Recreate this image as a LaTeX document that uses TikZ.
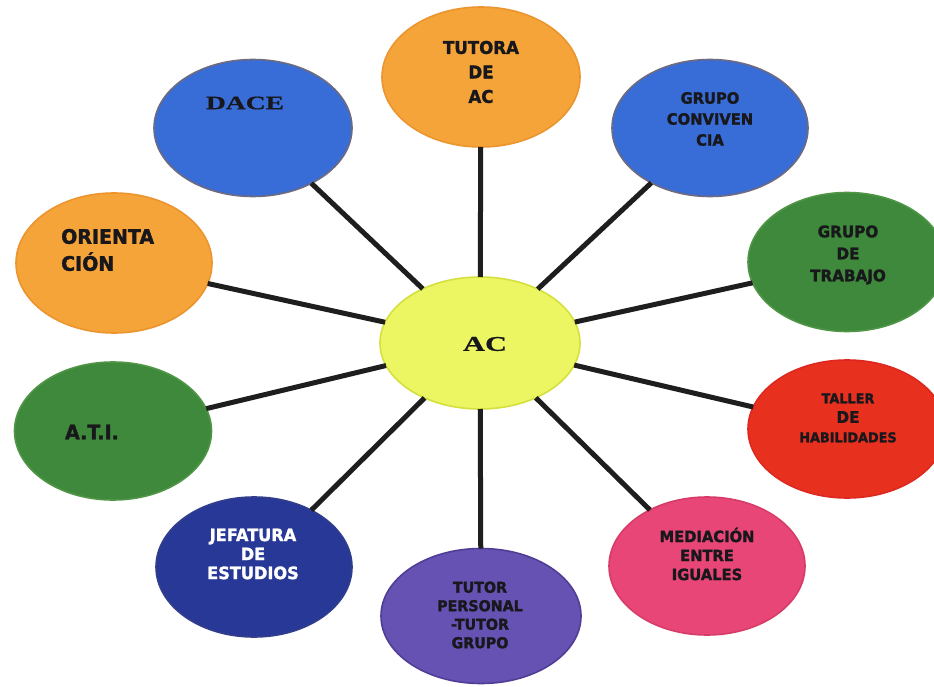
\documentclass[tikz,border=0pt]{standalone}
\usepackage{fontspec}
\setmainfont{DejaVu Sans}
\newfontfamily\sansb[FakeStretch=0.95,FakeBold=1.6]{DejaVu Sans}
\newfontfamily\serifb[FakeStretch=1.45,FakeBold=0.6]{Liberation Serif}
\usetikzlibrary{shapes.geometric}
\definecolor{orangeF}{RGB}{245,164,58}
\definecolor{orangeD}{RGB}{236,148,45}
\definecolor{blueF}{RGB}{56,108,214}
\definecolor{blueD}{RGB}{110,106,128}
\definecolor{greenF}{RGB}{62,137,60}
\definecolor{greenD}{RGB}{80,150,70}
\definecolor{redF}{RGB}{232,48,30}
\definecolor{redD}{RGB}{220,40,30}
\definecolor{navyF}{RGB}{40,56,150}
\definecolor{navyD}{RGB}{50,62,140}
\definecolor{purpleF}{RGB}{102,82,178}
\definecolor{purpleD}{RGB}{80,62,150}
\definecolor{pinkF}{RGB}{232,70,118}
\definecolor{pinkD}{RGB}{215,60,105}
\definecolor{yellowF}{RGB}{236,246,98}
\definecolor{yellowD}{RGB}{212,224,60}
\definecolor{spokec}{RGB}{30,30,30}
\definecolor{txt}{RGB}{24,24,28}
\begin{document}
\begin{tikzpicture}[x=1pt,y=-1pt,
  blob/.style={ellipse, inner sep=0pt, outer sep=0pt, line width=1.6pt},
  orangeblob/.style={blob, fill=orangeF, draw=orangeD},
  blueblob/.style={blob, fill=blueF, draw=blueD},
  greenblob/.style={blob, fill=greenF, draw=greenD},
  spoke/.style={line width=5pt, draw=spokec},
  lbl/.style={align=center, text=txt, inner sep=0pt},
]
\clip (0,0) rectangle (934,687);
\fill[white] (0,0) rectangle (934,687);

% ellipses
\node[blob, fill=yellowF, draw=yellowD, minimum width=200pt, minimum height=132pt] (ac) at (480,343) {};
\node[orangeblob, minimum width=198pt, minimum height=140pt] (tutora) at (481,77) {};
\node[blueblob, minimum width=198pt, minimum height=137pt] (dace) at (253,128) {};
\node[blueblob, minimum width=196pt, minimum height=137pt] (conv) at (710,128) {};
\node[orangeblob, minimum width=196pt, minimum height=140pt] (orient) at (114,263) {};
\node[greenblob, minimum width=198pt, minimum height=139pt] (trabajo) at (847,262) {};
\node[greenblob, minimum width=197pt, minimum height=138pt] (ati) at (113,431) {};
\node[blob, fill=redF, draw=redD, minimum width=198pt, minimum height=138pt] (taller) at (847,429) {};
\node[blob, fill=navyF, draw=navyD, minimum width=196pt, minimum height=140pt] (jef) at (254,567) {};
\node[blob, fill=purpleF, draw=purpleD, minimum width=200pt, minimum height=135pt] (tutor) at (481,616) {};
\node[blob, fill=pinkF, draw=pinkD, minimum width=196pt, minimum height=138pt] (med) at (707,566) {};

% spokes
\foreach \n in {tutora,dace,conv,orient,trabajo,ati,taller,jef,tutor,med}
  \draw[spoke] (ac) -- (\n);

% labels
\node[lbl, font={\serifb\bfseries\fontsize{21}{24}\selectfont}] (ac-t) at (485,344) {AC};
\node[lbl, font={\sansb\bfseries\fontsize{17.5}{24.5}\selectfont}] (tutora-t) at (481,72) {TUTORA\\DE\\AC};
\node[lbl, font={\serifb\bfseries\fontsize{19}{22}\selectfont}] (dace-t) at (245,103) {DACE};
\node[lbl, font={\sansb\bfseries\fontsize{15.5}{21}\selectfont}] (conv-t) at (710,119) {GRUPO\\CONVIVEN\\CIA};
\node[lbl, align=left, anchor=west, font={\sansb\bfseries\fontsize{20}{27}\selectfont}] (orient-t) at (61,250) {ORIENTA\\CIÓN};
\node[lbl, font={\sansb\bfseries\fontsize{16}{22}\selectfont}] (trabajo-t) at (848,255) {GRUPO\\DE\\TRABAJO};
\node[lbl, font={\sansb\bfseries\fontsize{20}{24}\selectfont}] (ati-t) at (92,432) {A.T.I.};
\node[lbl, font={\sansb\bfseries\fontsize{13.5}{19.5}\selectfont}] (taller-t) at (848,418) {TALLER\\{\fontsize{16}{19.5}\selectfont DE}\\HABILIDADES};
\node[lbl, text=white, font={\sansb\bfseries\fontsize{17}{19}\selectfont}] (jef-t) at (253,554) {JEFATURA\\DE\\ESTUDIOS};
\node[lbl, font={\sansb\bfseries\fontsize{15}{18.5}\selectfont}] (tutor-t) at (480,615) {TUTOR\\PERSONAL\\-TUTOR\\GRUPO};
\node[lbl, font={\sansb\bfseries\fontsize{15.5}{19}\selectfont}] (med-t) at (707,554) {MEDIACIÓN\\ENTRE\\IGUALES};
\end{tikzpicture}
\end{document}
